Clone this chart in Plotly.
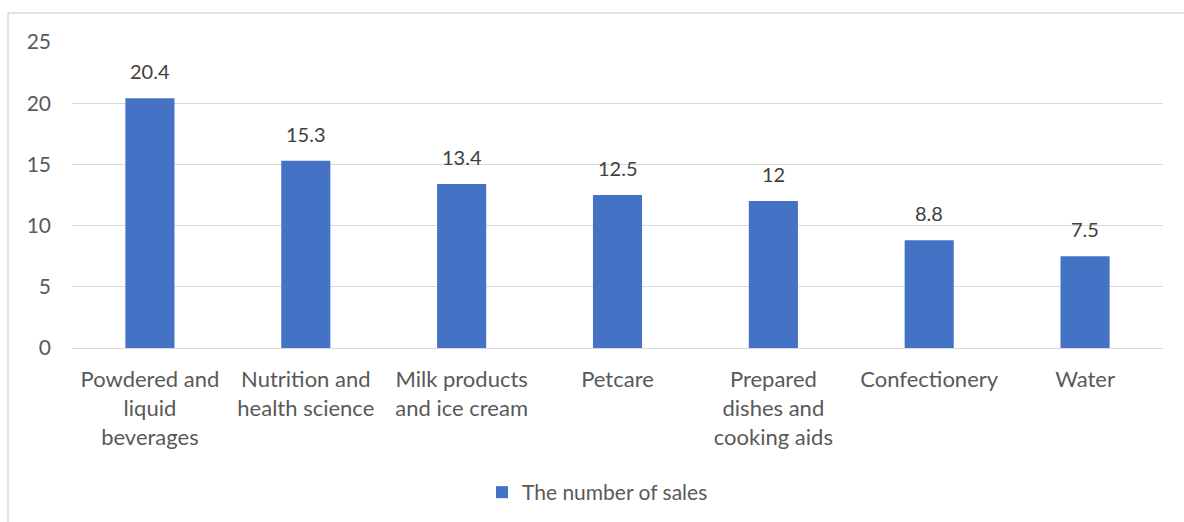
import plotly.graph_objects as go

categories = [
    "Powdered and<br>liquid<br>beverages",
    "Nutrition and<br>health science",
    "Milk products<br>and ice cream",
    "Petcare",
    "Prepared<br>dishes and<br>cooking aids",
    "Confectionery",
    "Water",
]
sales = [20.4, 15.3, 13.4, 12.5, 12, 8.8, 7.5]
y_ticks = [0, 5, 10, 15, 20, 25]
series_name = "The number of sales"

W, H = 1184, 522
ml, mr, mt, mb = 72, 21, 42, 174
pw = W - ml - mr
ph = H - mt - mb

BLUE = "#4472C4"
TEXT = "#595959"
LABEL = "#404040"
GRID = "#D9D9D9"
FONT = "Lato"
FS = 21

fig = go.Figure(
    go.Bar(
        x=categories,
        y=sales,
        name=series_name,
        marker=dict(color=BLUE, line=dict(width=0)),
        showlegend=True,
    )
)

# value labels above each bar
for cat, v in zip(categories, sales):
    fig.add_annotation(
        x=cat, y=v, xref="x", yref="y",
        text=f"{v:g}",
        showarrow=False,
        yanchor="bottom",
        yshift=13,
        font=dict(family=FONT, size=20, color=LABEL),
    )

fig.update_layout(
    width=W,
    height=H,
    margin=dict(l=ml, r=mr, t=mt, b=mb, autoexpand=False),
    paper_bgcolor="white",
    plot_bgcolor="white",
    bargap=0.685,
    font=dict(family=FONT, size=FS, color=TEXT),
    xaxis=dict(
        showgrid=False,
        showline=True,
        linecolor=GRID,
        linewidth=1,
        ticks="",
        automargin=False,
        ticklabelstandoff=12,
        tickfont=dict(family=FONT, size=22, color=TEXT),
    ),
    yaxis=dict(
        range=[0, 25],
        tickvals=y_ticks,
        showgrid=True,
        gridcolor=GRID,
        gridwidth=1,
        zeroline=False,
        showline=False,
        ticks="",
        automargin=False,
        ticklabelstandoff=20,
        tickfont=dict(family=FONT, size=FS, color=TEXT),
    ),
    showlegend=True,
    legend=dict(
        orientation="h",
        x=(482 - ml) / pw,
        xanchor="left",
        y=(H - 472 - mb) / ph,
        yanchor="top",
        font=dict(family=FONT, size=FS, color=TEXT),
        bgcolor="rgba(0,0,0,0)",
    ),
)

# chart frame: top and left edges visible
frame_left = (8 - ml) / pw
frame_top = 1 + (mt - 13) / ph
frame_bottom = -(mb) / ph - 0.1
fig.add_shape(type="line", xref="paper", yref="paper",
              x0=frame_left, x1=1.2, y0=frame_top, y1=frame_top,
              line=dict(color=GRID, width=1.5))
fig.add_shape(type="line", xref="paper", yref="paper",
              x0=frame_left, x1=frame_left, y0=frame_top, y1=frame_bottom,
              line=dict(color=GRID, width=1.5))

fig.write_html("out.html")
